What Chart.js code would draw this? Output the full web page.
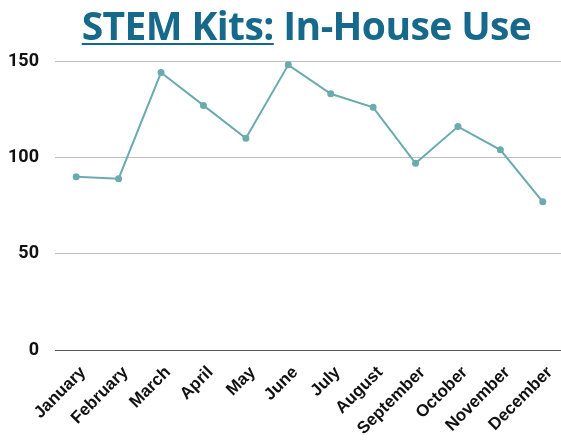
<!DOCTYPE html>
<html lang="en">
<head>
    <meta charset="UTF-8">
    <title>STEM Kits: In-House Use</title>
    <script src="https://cdn.jsdelivr.net/npm/chart.js"></script>
    <style>
        body { margin: 0; background: #fff; }
        #wrap { position: relative; width: 561px; height: 443px; overflow: hidden; }
        #title {
            position: absolute; left: 52px; right: 0; top: -2px;
            text-align: center; font-family: "Open Sans", sans-serif; font-weight: 700;
            font-size: 39px; color: #16698a; letter-spacing: -0.6px;
        }
        #title u { text-decoration-thickness: 2px; text-underline-offset: 3px; }
        canvas { position: absolute; left: 0; top: 0; }
    </style>
</head>
<body>
    <div id="wrap">
        <!-- canvas is a bit wider than the page so the plot runs off the right edge like the original -->
        <canvas id="kitsChart" width="570" height="443"></canvas>
        <div id="title"><u>STEM Kits:</u> In-House Use</div>
    </div>

    <script>
        const months = ["January", "February", "March", "April", "May", "June",
                        "July", "August", "September", "October", "November", "December"];
        const kitsUsed = [90, 89, 144, 127, 110, 148, 133, 126, 97, 116, 104, 77];
        const yTicks = [0, 50, 100, 150];

        const ctx = document.getElementById("kitsChart").getContext("2d");
        new Chart(ctx, {
            type: "line",
            data: {
                labels: months,
                datasets: [{
                    data: kitsUsed,
                    borderColor: "#6aabaf",
                    backgroundColor: "#6aabaf",
                    borderWidth: 2,
                    pointRadius: 2.5,
                    tension: 0,
                    fill: false
                }]
            },
            options: {
                responsive: false,
                animation: false,
                layout: { padding: { top: 61, left: -8, right: 0, bottom: 0 } },
                plugins: { legend: { display: false }, tooltip: { enabled: false } },
                scales: {
                    x: {
                        offset: true,
                        grid: { display: false },
                        border: { display: false },
                        afterFit: s => { s.paddingLeft = 0; s.paddingRight = 0; },
                        ticks: {
                            color: "#111",
                            font: { family: "Liberation Sans", weight: "bold", size: 17 },
                            minRotation: 45, maxRotation: 45, padding: 4, labelOffset: 7
                        }
                    },
                    y: {
                        min: 0, max: 150,
                        afterBuildTicks: axis => { axis.ticks = yTicks.map(v => ({ value: v })); },
                        border: { display: false },
                        grid: {
                            drawTicks: false,
                            color: c => c.tick.value === 0 ? "#555" : "#bdbdbd"
                        },
                        ticks: {
                            color: "#111",
                            font: { family: "Roboto", weight: "bold", size: 18 },
                            padding: 16
                        }
                    }
                }
            }
        });
    </script>
</body>
</html>
